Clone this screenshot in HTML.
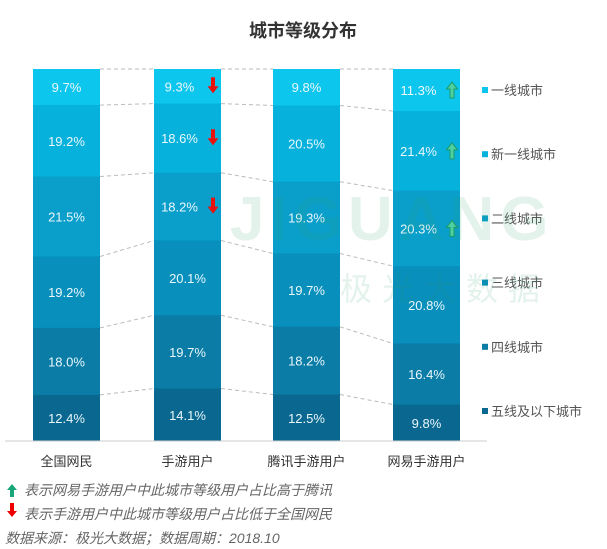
<!DOCTYPE html>
<html><head><meta charset="utf-8"><style>
body{margin:0;background:#fff;}
svg{display:block;font-family:"Liberation Sans","Noto Sans CJK SC",sans-serif;}
</style></head><body>
<svg id="chart" width="607" height="549" viewBox="0 0 607 549">
<text x="303" y="37" text-anchor="middle" font-size="18" font-weight="bold" fill="#333">城市等级分布</text>
<g id="links"></g><g id="bars"></g><g id="legend"></g>
<g id="watermark" opacity="0.13">
<text x="230" y="240" font-size="62" font-weight="bold" fill="#2e9e6e" letter-spacing="6">JIGUANG</text>
<text x="340" y="300" font-size="32" fill="#2e9e6e" letter-spacing="10">极光大数据</text>
</g>
<line x1="5" y1="441" x2="487" y2="441" stroke="#ccc" stroke-width="1"/>
<g font-size="14" font-style="italic" fill="#666">
<path d="M12 484 l-5 6 h3 v7 h4 v-7 h3 z" fill="#1aa579"/>
<text x="24" y="495">表示网易手游用户中此城市等级用户占比高于腾讯</text>
<path d="M10 503 v8 h-3 l5 6 l5 -6 h-3 v-8 z" fill="#e00"/>
<text x="24" y="519">表示手游用户中此城市等级用户占比低于全国网民</text>
<text x="5" y="543">数据来源：极光大数据；数据周期：2018.10</text>
</g>
</svg>
<script>
const categories=["全国网民","手游用户","腾讯手游用户","网易手游用户"];
const tiers=["一线城市","新一线城市","二线城市","三线城市","四线城市","五线及以下城市"];
const s1=[9.7,9.3,9.8,11.3];
const s2=[19.2,18.6,20.5,21.4];
const s3=[21.5,18.2,19.3,20.3];
const s4=[19.2,20.1,19.7,20.8];
const s5=[18.0,19.7,18.2,16.4];
const s6=[12.4,14.1,12.5,9.8];
const downMarks=[[],[0,1,2],[],[]];
const upMarks=[[],[],[],[0,1,2]];
const series=[s1,s2,s3,s4,s5,s6];
const colors=["#0cc6ee","#06b1dc","#0a9ecb","#088fbb","#0a7ca6","#0a6890"];
const NS="http://www.w3.org/2000/svg";
const plotTop=69,plotBot=441,plotH=plotBot-plotTop;
const barX=[33,154,273,393],bw=67;
function yScale(v){return plotTop+plotH*v/100;}
function mk(t,a,p){const e=document.createElementNS(NS,t);for(const k in a)e.setAttribute(k,a[k]);p.appendChild(e);return e;}
const bars=document.getElementById('bars'),links=document.getElementById('links'),leg=document.getElementById('legend'),svg=document.getElementById('chart');
const bounds=categories.map((c,i)=>{let acc=0;const b=[0];series.forEach(s=>{acc+=s[i];b.push(acc);});return b;});
categories.forEach((c,i)=>{
  const x=barX[i];
  series.forEach((s,j)=>{
    const y0=yScale(bounds[i][j]),y1=yScale(bounds[i][j+1]);
    const r=mk('rect',{x:x,y:y0,width:bw,height:y1-y0+0.5,fill:colors[j]},bars);
    
    
    const mark=downMarks[i].includes(j)||upMarks[i].includes(j);
    const tx=x+bw/2-(mark?8:0), ty=(y0+y1)/2+5;
    const t=mk('text',{x:tx,y:ty,'text-anchor':'middle','font-size':13,fill:'#eaf7fb'},bars);
    t.textContent=s[i].toFixed(1)+'%';
    
    
    if(downMarks[i].includes(j)){
      const a=mk('path',{d:`M${x+bw-10} ${ty-14} v9 h-3.5 l5.5 7 l5.5 -7 h-3.5 v-9 z`,fill:'#e8120c'},bars);
      
      
    }
    if(upMarks[i].includes(j)){
      const a=mk('path',{d:`M${x+bw-8} ${ty-13} l-5.5 7 h3.5 v9 h4 v-9 h3.5 z`,fill:'#4fd0a0',stroke:'#1a9a6a','stroke-width':1},bars);
      
      
    }
  });
  const lb=mk('text',{x:x+bw/2,y:466,'text-anchor':'middle','font-size':13,fill:'#333'},svg);
  lb.textContent=c;
  
  
  if(i<categories.length-1){
    for(let k=0;k<bounds[i].length-1;k++){
      const l=mk('line',{x1:x+bw,y1:yScale(bounds[i][k]),x2:barX[i+1],y2:yScale(bounds[i+1][k]),stroke:'#bbb','stroke-dasharray':'4,3','stroke-width':1},links);
      
      
    }
  }
});
tiers.forEach((t,j)=>{
  const ly=91+j*64.2;
  const r=mk('rect',{x:482,y:ly-4,width:6,height:6,fill:colors[j]},leg);
  
  
  const tx=mk('text',{x:491,y:ly+4,'font-size':13,fill:'#555'},leg);
  tx.textContent=t;
  
  
});
</script>
</body></html>
